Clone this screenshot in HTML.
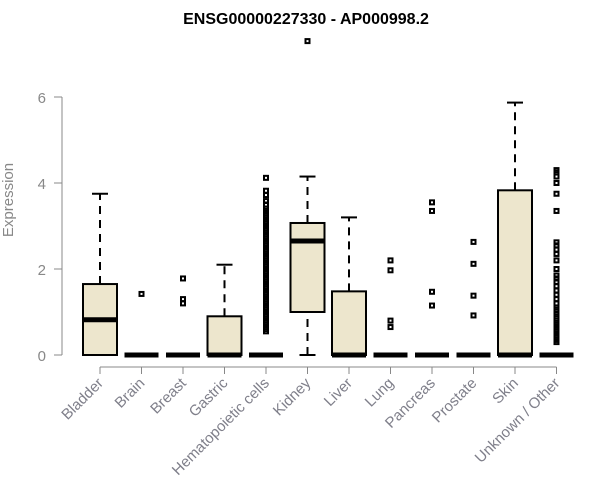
<!DOCTYPE html>
<html><head><meta charset="utf-8"><style>
body{margin:0;background:#fff}
svg{display:block;font-family:"Liberation Sans",Arial,sans-serif}
</style></head><body>
<svg id="chart" width="600" height="500">
<text x="306" y="24" text-anchor="middle" font-weight="bold" font-size="16">ENSG00000227330 - AP000998.2</text>
<text x="13" y="200" transform="rotate(-90 13 200)" text-anchor="middle" fill="#888" font-size="15">Expression</text>
<g id="yaxis"></g>
<g id="xaxis"></g>
<g id="boxes"></g>
</svg>
<script>
const categories=["Bladder","Brain","Breast","Gastric","Hematopoietic cells","Kidney","Liver","Lung","Pancreas","Prostate","Skin","Unknown / Other"];
const q1=[0,0,0,0,0,1.0,0,0,0,0,0,0];
const medians=[0.82,0,0,0,0,2.65,0,0,0,0,0,0];
const q3=[1.65,0,0,0.9,0,3.07,1.48,0,0,0,3.83,0];
const whiskLo=[0,0,0,0,0,0,0,0,0,0,0,0];
const whiskHi=[3.75,0,0,2.1,0,4.15,3.2,0,0,0,5.87,0];
const outliers=[
[],
[1.42],
[1.78,1.3,1.2],
[],
[0.55,0.6,0.65,0.7,0.75,0.8,0.85,0.9,0.95,1.0,1.05,1.1,1.15,1.2,1.25,1.3,1.35,1.4,1.45,1.5,1.55,1.6,1.65,1.7,1.75,1.8,1.85,1.9,1.95,2.0,2.05,2.1,2.15,2.2,2.25,2.3,2.35,2.4,2.45,2.5,2.55,2.6,2.65,2.7,2.75,2.8,2.85,2.9,2.95,3.0,3.05,3.1,3.15,3.2,3.25,3.3,3.35,3.4,3.5,3.58,3.72,3.82,4.12],
[7.3],
[],
[2.2,1.97,0.8,0.65],
[3.55,3.35,1.47,1.15],
[2.63,2.12,1.38,0.92],
[],
[0.3,0.35,0.4,0.45,0.5,0.55,0.6,0.65,0.7,0.75,0.8,0.9,0.95,1.05,1.1,1.2,1.3,1.4,1.5,1.6,1.7,1.78,1.85,2.0,2.2,2.35,2.45,2.55,2.62,3.35,3.75,4.0,4.15,4.25,4.3]
];
const yTicks=[0,2,4,6];
const NS="http://www.w3.org/2000/svg";
const y=v=>355-43*v;
const x=i=>100+41.5*i;
const bw=34;
function mk(tag,attrs,parent){const e=document.createElementNS(NS,tag);for(const k in attrs)e.setAttribute(k,attrs[k]);parent.appendChild(e);return e;}
const ya=document.getElementById('yaxis'),xa=document.getElementById('xaxis'),bx=document.getElementById('boxes');
mk('line',{x1:62,x2:62,y1:y(0),y2:y(6),stroke:'#888'},ya);
yTicks.forEach(t=>{
  const l=mk('line',{x1:54,x2:62,y1:y(t),y2:y(t),stroke:'#888'},ya);
  
  
  const tx=mk('text',{x:46,y:y(t)+6,'text-anchor':'end',fill:'#888','font-size':15},ya);
  tx.textContent=t;
  
  
});
mk('line',{x1:x(0),x2:x(11),y1:367,y2:367,stroke:'#888'},xa);
categories.forEach((c,i)=>{
  const l=mk('line',{x1:x(i),x2:x(i),y1:367,y2:374,stroke:'#888'},xa);
  
  
  const tx=mk('text',{x:x(i)+4,y:384,'text-anchor':'end',fill:'#7f7f8a','font-size':15,transform:`rotate(-45 ${x(i)+4} 384)`},xa);
  tx.textContent=c;
  
  
  const g=mk('g',{},bx);
  
  
  const cx=x(i);
  if(whiskHi[i]>q3[i]){
    mk('line',{x1:cx,x2:cx,y1:y(q3[i]),y2:y(whiskHi[i]),stroke:'#000','stroke-width':2,'stroke-dasharray':'8,6'},g);
    mk('line',{x1:cx-8,x2:cx+8,y1:y(whiskHi[i]),y2:y(whiskHi[i]),stroke:'#000','stroke-width':2},g);
  }
  if(q1[i]>whiskLo[i]){
    mk('line',{x1:cx,x2:cx,y1:y(whiskLo[i]),y2:y(q1[i]),stroke:'#000','stroke-width':2,'stroke-dasharray':'8,6'},g);
    mk('line',{x1:cx-8,x2:cx+8,y1:y(whiskLo[i]),y2:y(whiskLo[i]),stroke:'#000','stroke-width':2},g);
  }
  if(q3[i]>q1[i]){
    mk('rect',{x:cx-bw/2,y:y(q3[i]),width:bw,height:y(q1[i])-y(q3[i]),fill:'#ede6cd',stroke:'#000','stroke-width':2},g);
  }
  mk('line',{x1:cx-bw/2,x2:cx+bw/2,y1:y(medians[i]),y2:y(medians[i]),stroke:'#000','stroke-width':5},g);
  outliers[i].forEach(v=>{
    const r=mk('rect',{x:cx-2,y:y(v)-2,width:4,height:4,fill:'none',stroke:'#000','stroke-width':2},g);
    
    
  });
});
</script>
</body></html>
